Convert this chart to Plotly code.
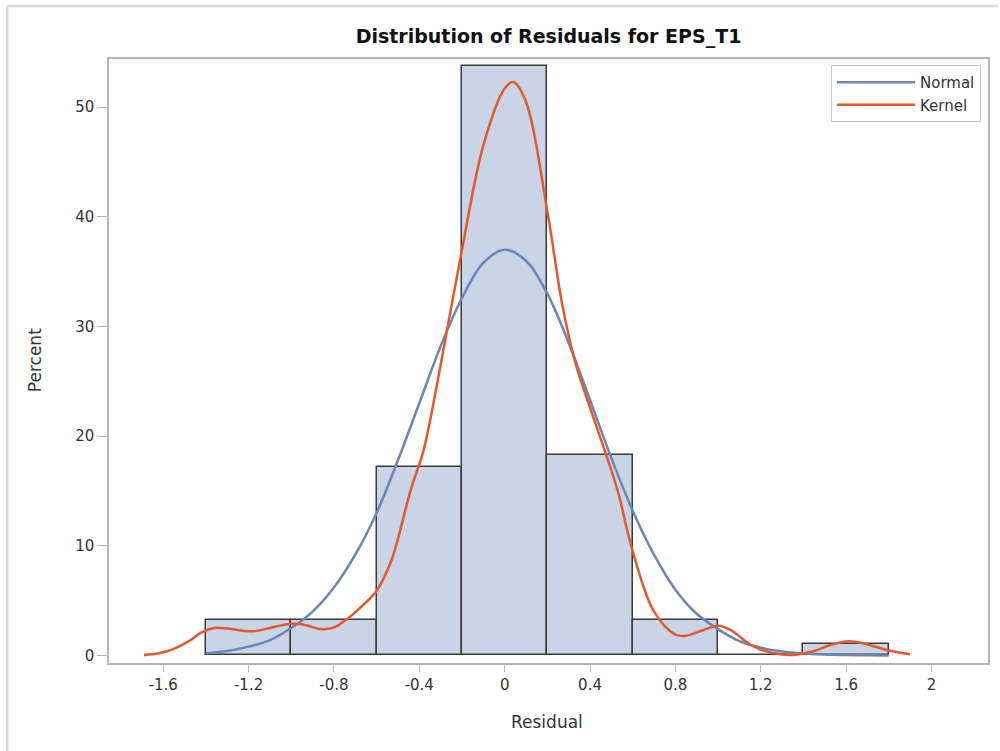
import plotly.graph_objects as go

# Histogram of residuals (percent of observations per 0.4-wide bin)
bin_centers = [-1.2, -0.8, -0.4, 0.0, 0.4, 0.8, 1.2, 1.6]
bin_percent = [3.23, 3.23, 17.20, 53.76, 18.28, 3.23, 0.0, 1.08]
bin_width = 0.4

# Fitted normal density, scaled to percent per bin
normal_x = [-1.4, -1.3, -1.2, -1.1, -1.0, -0.9, -0.8, -0.7, -0.6, -0.5, -0.4,
            -0.3, -0.2, -0.1, 0.0, 0.1, 0.2, 0.3, 0.4, 0.5, 0.6, 0.7, 0.8,
            0.9, 1.0, 1.1, 1.2, 1.3, 1.4, 1.5, 1.6, 1.7, 1.8]
normal_y = [0.2, 0.4, 0.8, 1.4, 2.5, 4.0, 6.2, 9.2, 13.0, 17.8, 23.0,
            28.2, 32.6, 35.8, 37.0, 36.0, 33.0, 28.5, 23.3, 18.0, 13.2, 9.2, 6.0,
            3.8, 2.4, 1.3, 0.7, 0.35, 0.17, 0.08, 0.03, 0.01, 0.0]

# Kernel density estimate, scaled to percent per bin
kernel_x = [-1.69, -1.62, -1.55, -1.48, -1.42, -1.36, -1.3, -1.18, -1.08,
            -1.0, -0.93, -0.86, -0.8, -0.74, -0.68, -0.6, -0.53, -0.44, -0.38,
            -0.3, -0.2, -0.1, 0.0, 0.04, 0.1, 0.2, 0.27, 0.33, 0.4, 0.46, 0.53,
            0.6, 0.7, 0.8, 0.85, 0.93, 1.0, 1.06, 1.15, 1.22, 1.35, 1.45, 1.52,
            1.61, 1.7, 1.8, 1.9]
kernel_y = [0.05, 0.2, 0.6, 1.3, 2.1, 2.5, 2.45, 2.2, 2.6,
            2.9, 2.75, 2.4, 2.55, 3.3, 4.3, 5.9, 8.7, 15.1, 18.7,
            26.5, 37.0, 46.5, 51.7, 52.3, 50.5, 40.5, 32.0, 26.8, 22.6, 19.2, 15.0,
            9.5, 4.0, 1.9, 1.8, 2.3, 2.7, 2.3, 1.0, 0.4, 0.05, 0.4, 0.9,
            1.3, 1.0, 0.45, 0.1]

tick_vals = [-1.6, -1.2, -0.8, -0.4, 0.0, 0.4, 0.8, 1.2, 1.6, 2.0]
tick_text = ["-1.6", "-1.2", "-0.8", "-0.4", "0", "0.4", "0.8", "1.2", "1.6", "2"]
y_tick_vals = [0, 10, 20, 30, 40, 50]

W, H = 1000, 751
M_L, M_R, M_T, M_B = 109, 10, 59, 88
plot_w = W - M_L - M_R
plot_h = H - M_T - M_B

FONT = "DejaVu Sans, Liberation Sans, Arial, sans-serif"
TEXT = "#333333"
FRAME = "#b4b4b4"

fig = go.Figure()

fig.add_trace(go.Bar(
    x=bin_centers, y=bin_percent, width=bin_width,
    marker=dict(color="#c9d5e6", line=dict(color="#3a3a3a", width=1.5)),
    showlegend=False, hoverinfo="x+y",
))

fig.add_trace(go.Scatter(
    x=normal_x, y=normal_y, mode="lines", name="Normal",
    line=dict(color="#6a86b5", width=2.5, shape="spline", smoothing=1.0),
))

fig.add_trace(go.Scatter(
    x=kernel_x, y=kernel_y, mode="lines", name="Kernel",
    line=dict(color="#e4592b", width=2.5, shape="spline", smoothing=1.0),
))

def px_x(p):
    return (p - M_L) / plot_w

def px_y(p):
    return (H - M_B - p) / plot_h

fig.update_layout(
    width=W, height=H,
    margin=dict(l=M_L, r=M_R, t=M_T, b=M_B),
    paper_bgcolor="white", plot_bgcolor="white",
    font=dict(family=FONT, color=TEXT, size=15),
    bargap=0,
    title=dict(
        text="<b>Distribution of Residuals for EPS_T1</b>",
        x=px_x(549.5), xanchor="center", xref="paper",
        y=(H - 36) / H, yanchor="middle",
        font=dict(family=FONT, size=19, color="#111111"),
    ),
    xaxis=dict(
        range=[-1.854, 2.265], tickvals=tick_vals, ticktext=tick_text,
        showgrid=False, zeroline=False,
        showline=True, mirror=True, linecolor=FRAME, linewidth=1.5,
        ticks="outside", ticklen=7, tickcolor=FRAME, tickwidth=1,
        tickfont=dict(size=15, color=TEXT),
    ),
    yaxis=dict(
        range=[-0.69, 54.4], tickvals=y_tick_vals,
        showgrid=False, zeroline=False,
        showline=True, mirror=True, linecolor=FRAME, linewidth=1.5,
        ticks="outside", ticklen=10, tickcolor=FRAME, tickwidth=1,
        tickfont=dict(size=15, color=TEXT),
    ),
    legend=dict(
        x=px_x(983), xanchor="right", y=px_y(65), yanchor="top",
        bgcolor="white", bordercolor="#c8c8c8", borderwidth=1,
        font=dict(size=15, color=TEXT), itemwidth=78,
        tracegroupgap=0,
    ),
    annotations=[
        dict(text="Residual", xref="paper", yref="paper",
             x=px_x(548), y=px_y(722), showarrow=False,
             xanchor="center", yanchor="middle",
             font=dict(size=17, color=TEXT)),
        dict(text="Percent", xref="paper", yref="paper",
             x=px_x(35), y=px_y(360), showarrow=False, textangle=-90,
             xanchor="center", yanchor="middle",
             font=dict(size=17, color=TEXT)),
    ],
    shapes=[
        dict(type="line", xref="paper", yref="paper",
             x0=px_x(7), x1=px_x(1000), y0=px_y(6), y1=px_y(6),
             line=dict(color="#dadada", width=2.5)),
        dict(type="line", xref="paper", yref="paper",
             x0=px_x(7), x1=px_x(7), y0=px_y(6), y1=px_y(751),
             line=dict(color="#dadada", width=2.5)),
    ],
)

fig.write_html("out.html")
